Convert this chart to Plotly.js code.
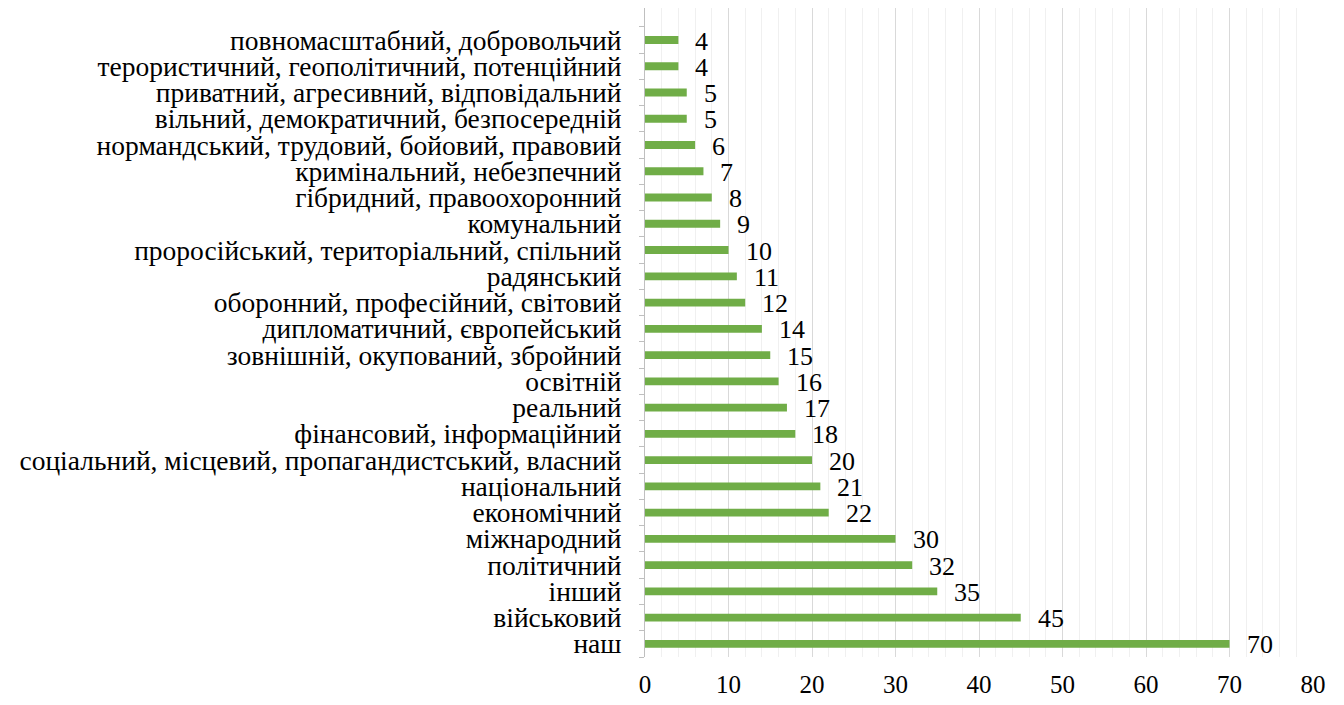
<!DOCTYPE html>
<html>
<head>
<meta charset="utf-8">
<script src="https://cdn.plot.ly/plotly-3.0.1.min.js"></script>
<style>html,body{margin:0;padding:0;background:#fff;}#chart{width:1344px;height:705px;}</style>
</head>
<body>
<div id="chart"></div>
<script>
const categories = [
  "повномасштабний, добровольчий",
  "терористичний, геополітичний, потенційний",
  "приватний, агресивний, відповідальний",
  "вільний, демократичний, безпосередній",
  "нормандський, трудовий, бойовий, правовий",
  "кримінальний, небезпечний",
  "гібридний, правоохоронний",
  "комунальний",
  "проросійський, територіальний, спільний",
  "радянський",
  "оборонний, професійний, світовий",
  "дипломатичний, європейський",
  "зовнішній, окупований, збройний",
  "освітній",
  "реальний",
  "фінансовий, інформаційний",
  "соціальний, місцевий, пропагандистський, власний",
  "національний",
  "економічний",
  "міжнародний",
  "політичний",
  "інший",
  "військовий",
  "наш"
];
const values = [4, 4, 5, 5, 6, 7, 8, 9, 10, 11, 12, 14, 15, 16, 17, 18, 20, 21, 22, 30, 32, 35, 45, 70];
const xTicks = [0, 10, 20, 30, 40, 50, 60, 70, 80];

const font = "'Liberation Serif', 'Times New Roman', serif";

const annotations = categories.map((c, i) => ({
  x: values[i], y: c, xref: 'x', yref: 'y',
  text: String(values[i]), showarrow: false,
  xanchor: 'left', yanchor: 'middle', xshift: 15, yshift: -1,
  font: {family: font, size: 26, color: '#000'}
}));

Plotly.newPlot('chart', [{
  type: 'bar', orientation: 'h',
  x: values, y: categories,
  width: 0.3,
  marker: {color: '#70ad47'},
  hoverinfo: 'none'
}], {
  width: 1344, height: 705,
  margin: {l: 645, r: 31, t: 8, b: 48},
  paper_bgcolor: '#fff', plot_bgcolor: '#fff',
  showlegend: false,
  font: {family: font, size: 20, color: '#000'},
  xaxis: {
    range: [0, 80], tickmode: 'array', tickvals: xTicks, ticktext: xTicks.map(String), ticks: '',
    showgrid: true, gridcolor: '#d9d9d9', gridwidth: 1,
    minor: {dtick: 2, tick0: 0, showgrid: true, gridcolor: '#f0f0f0', gridwidth: 1},
    zeroline: false, showline: false,
    tickfont: {family: font, size: 25, color: '#000'},
    ticklabelstandoff: 10
  },
  yaxis: {
    type: 'category',
    range: [23.5, -1.22],
    tickmode: 'array', tickvals: categories, ticktext: categories,
    ticks: 'outside', tickson: 'boundaries', ticklen: 5, tickcolor: '#bfbfbf',
    showline: true, linecolor: '#bfbfbf', linewidth: 1,
    showgrid: false, zeroline: false,
    tickfont: {family: font, size: 27.5, color: '#000'},
    ticklabelstandoff: 17
  },
  annotations: annotations
}, {staticPlot: true});
</script>
</body>
</html>
